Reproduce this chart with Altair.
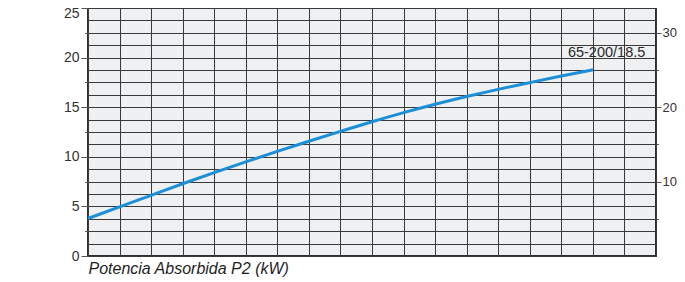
import altair as alt
import pandas as pd

# ---- data ----
flow_col = [0, 1, 2, 3, 4, 5, 6, 7, 8, 9, 10, 11, 12, 13, 14, 15, 16]
power_kw = [3.78, 4.95, 6.12, 7.28, 8.40, 9.49, 10.55, 11.57, 12.56, 13.53,
            14.45, 15.30, 16.08, 16.80, 17.48, 18.14, 18.77]

x_grid_values = [0, 1, 2, 3, 4, 5, 6, 7, 8, 9, 10, 11, 12, 13, 14, 15, 16, 17, 18]
kw_axis_values = [0, 1.25, 2.5, 3.75, 5, 6.25, 7.5, 8.75, 10, 11.25, 12.5, 13.75,
                  15, 16.25, 17.5, 18.75, 20, 21.25, 22.5, 23.75, 25]
hp_axis_values = [5, 10, 15, 20, 25, 30]

curve_label = ["65-200/18.5"]
curve_label_x = [16]
curve_label_y = [18.77]

x_title = "Potencia Absorbida P2 (kW)"
X_MAX = 18
KW_MAX = 25
HP_MAX = 33.3

FONT = "Liberation Sans, Arial, sans-serif"

curve_df = pd.DataFrame({"q": flow_col, "kw": power_kw})
label_df = pd.DataFrame({"q": curve_label_x, "kw": curve_label_y, "t": curve_label})
hp_df = pd.DataFrame({"hp": [0, HP_MAX]})

x_scale = alt.Scale(domain=[0, X_MAX], nice=False, zero=False)
x_axis = alt.Axis(
    values=x_grid_values, tickCount=len(x_grid_values), grid=True,
    gridColor="#3a3a3a", gridWidth=1,
    labels=False, ticks=False, domain=False,
    title=x_title, titleFont=FONT, titleFontSize=16, titleFontStyle="italic",
    titleFontWeight="normal", titleColor="#1e1e1e",
    titleAnchor="start", titleAlign="left", titlePadding=4,
)

y_scale = alt.Scale(domain=[0, KW_MAX], nice=False, zero=True)
y_axis = alt.Axis(
    orient="left", values=kw_axis_values, tickCount=len(kw_axis_values),
    grid=True, gridColor="#3a3a3a", gridWidth=1, domain=False,
    tickColor="#555555", tickWidth=1,
    tickSize={"condition": [
        {"test": "datum.value % 5 === 0", "value": 7},
        {"test": "datum.value % 2.5 === 0", "value": 3.5},
    ], "value": 0},
    labelExpr="datum.value % 5 === 0 ? datum.label : ''",
    labelFont=FONT, labelFontSize=14, labelColor="#333333",
    labelPadding=2, labelOverlap=False,
    labelOffset={"condition": {"test": "datum.value === 25", "value": 5.5},
                 "value": 0},
    title=None,
)

line = alt.Chart(curve_df).mark_line(
    color="#1b8fd8", strokeWidth=3, interpolate="monotone"
).encode(
    x=alt.X("q:Q", scale=x_scale, axis=x_axis),
    y=alt.Y("kw:Q", scale=y_scale, axis=y_axis),
)

label = alt.Chart(label_df).mark_text(
    align="left", baseline="alphabetic", dx=-25, dy=-13,
    font=FONT, fontSize=14.5, color="#2a2a2a",
).encode(
    x=alt.X("q:Q", scale=x_scale, axis=x_axis),
    y=alt.Y("kw:Q", scale=y_scale, axis=y_axis),
    text="t:N",
)

hp_layer = alt.Chart(hp_df).mark_point(opacity=0).encode(
    y=alt.Y(
        "hp:Q",
        scale=alt.Scale(domain=[0, HP_MAX], nice=False, zero=True),
        axis=alt.Axis(
            orient="right", values=hp_axis_values, grid=False, domain=False,
            tickColor="#555555", tickWidth=1,
            tickSize={"condition": {"test": "datum.value % 10 === 0", "value": 5},
                      "value": 2.5},
            labelExpr="datum.value % 10 === 0 ? datum.label : ''",
            labelFont=FONT, labelFontSize=13, labelColor="#333333",
            labelPadding=1, labelOverlap=False, title=None,
        ),
    ),
)

chart = alt.layer(
    alt.layer(line, label), hp_layer
).resolve_scale(y="independent").properties(
    width=568, height=248,
    autosize=alt.AutoSizeParams(type="none"),
    padding={"left": 80, "top": 0, "right": 21, "bottom": 24},
).configure_view(
    fill="#eff0f2", stroke="#2e2e2e", strokeWidth=2,
)

chart.save("out.html", embed_options={"renderer": "svg", "actions": False})
